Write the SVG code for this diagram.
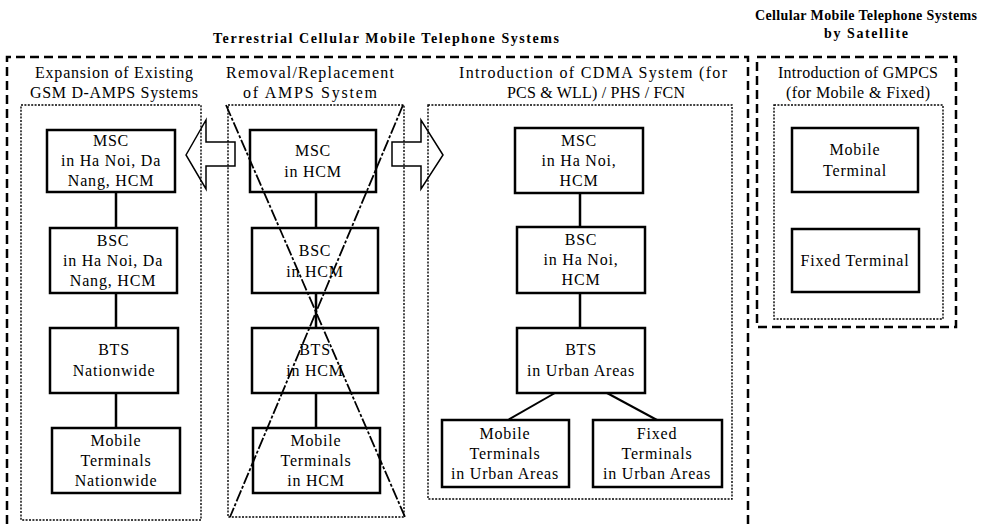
<svg xmlns="http://www.w3.org/2000/svg" width="981" height="524" viewBox="0 0 981 524">
<style>
.outer{fill:none;stroke:#000;stroke-width:2.5;stroke-dasharray:9 5}
.inner{fill:none;stroke:#000;stroke-width:1.4;stroke-dasharray:2 1.4}
.box{fill:#fff;stroke:#000;stroke-width:2.5}
.ln{stroke:#000;stroke-width:2.5;fill:none}
.cross{stroke:#000;stroke-width:1.8;stroke-dasharray:12 2 3 2;fill:none}
.arr{fill:none;stroke:#000;stroke-width:1.5}
text{font-family:"Liberation Serif","Times New Roman",serif;fill:#000;text-anchor:middle}
.t{font-size:16px;letter-spacing:0.8px}
.h{font-size:16px}
.ti{font-size:14px;font-weight:bold}
</style>
<rect width="981" height="524" fill="#fff"/>

<g id="titles">
<text class="ti" x="386" y="43" textLength="346" lengthAdjust="spacing">Terrestrial Cellular Mobile Telephone Systems</text>
<text class="ti" x="866" y="20" textLength="222" lengthAdjust="spacing">Cellular Mobile Telephone Systems</text>
<text class="ti" x="866" y="38" textLength="84" lengthAdjust="spacing">by Satellite</text>
</g>

<g id="frames">
<path class="outer" d="M7,524 V57 H748 V524"/>
<rect class="outer" x="757" y="57" width="199" height="270"/>
</g>

<g id="sec1">
<text class="h" x="114" y="78" textLength="158" lengthAdjust="spacing">Expansion of Existing</text>
<text class="h" x="114" y="98" textLength="168" lengthAdjust="spacing">GSM D-AMPS Systems</text>
<rect class="inner" x="21" y="105" width="180" height="415"/>
</g>
<g id="sec2">
<text class="h" x="310" y="78" textLength="168" lengthAdjust="spacing">Removal/Replacement</text>
<text class="h" x="310" y="98" textLength="134" lengthAdjust="spacing">of AMPS System</text>
<rect class="inner" x="228" y="105" width="176" height="412"/>
</g>
<g id="sec3">
<text class="h" x="593" y="78" textLength="268" lengthAdjust="spacing">Introduction of CDMA System (for</text>
<text class="h" x="596" y="98" textLength="178" lengthAdjust="spacing">PCS &amp; WLL) / PHS / FCN</text>
<rect class="inner" x="428" y="105" width="304" height="394"/>
</g>
<g id="sec4">
<text class="h" x="858" y="78" textLength="160" lengthAdjust="spacing">Introduction of GMPCS</text>
<text class="h" x="858" y="98" textLength="144" lengthAdjust="spacing">(for Mobile &amp; Fixed)</text>
<rect class="inner" x="774" y="105" width="169" height="214"/>
</g>

<g id="transitions">
<path class="arr" d="M186,155 L206,120 V142 H235 V166 H206 V189 Z"/>
<path class="arr" d="M443,155 L421,120 V142 H392 V166 H421 V189 Z"/>
</g>

<g id="connectors">
<line class="ln" x1="116" y1="192" x2="116" y2="228"/>
<line class="ln" x1="116" y1="293" x2="116" y2="328"/>
<line class="ln" x1="116" y1="393" x2="116" y2="428"/>
<line class="ln" x1="316" y1="192" x2="316" y2="228"/>
<line class="ln" x1="316" y1="293" x2="316" y2="328"/>
<line class="ln" x1="316" y1="393" x2="316" y2="428"/>
<line class="ln" x1="580" y1="193" x2="580" y2="227"/>
<line class="ln" x1="580" y1="293" x2="580" y2="328"/>
<line class="ln" x1="555" y1="393" x2="508" y2="420" style="stroke-width:2"/>
<line class="ln" x1="607" y1="393" x2="657" y2="420" style="stroke-width:2"/>
</g>

<g id="n1msc"><rect class="box" x="47" y="130" width="128" height="62"/>
<text class="t" x="111" y="146">MSC</text><text class="t" x="111" y="166">in Ha Noi, Da</text><text class="t" x="111" y="186">Nang, HCM</text></g>
<g id="n1bsc"><rect class="box" x="50" y="228" width="127" height="65"/>
<text class="t" x="113" y="246">BSC</text><text class="t" x="113" y="266">in Ha Noi, Da</text><text class="t" x="113" y="286">Nang, HCM</text></g>
<g id="n1bts"><rect class="box" x="50" y="328" width="128" height="65"/>
<text class="t" x="114" y="355">BTS</text><text class="t" x="114" y="376">Nationwide</text></g>
<g id="n1mob"><rect class="box" x="52" y="428" width="128" height="65"/>
<text class="t" x="116" y="446">Mobile</text><text class="t" x="116" y="466">Terminals</text><text class="t" x="116" y="486">Nationwide</text></g>

<g id="n2msc"><rect class="box" x="250" y="130" width="126" height="62"/>
<text class="t" x="313" y="156">MSC</text><text class="t" x="313" y="177">in HCM</text></g>
<g id="n2bsc"><rect class="box" x="252" y="228" width="126" height="65"/>
<text class="t" x="315" y="256">BSC</text><text class="t" x="315" y="277">in HCM</text></g>
<g id="n2bts"><rect class="box" x="252" y="328" width="126" height="65"/>
<text class="t" x="315" y="355">BTS</text><text class="t" x="315" y="376">in HCM</text></g>
<g id="n2mob"><rect class="box" x="253" y="428" width="127" height="65"/>
<text class="t" x="316" y="446">Mobile</text><text class="t" x="316" y="466">Terminals</text><text class="t" x="316" y="486">in HCM</text></g>

<g id="n3msc"><rect class="box" x="515" y="128" width="128" height="65"/>
<text class="t" x="579" y="146">MSC</text><text class="t" x="579" y="166">in Ha Noi,</text><text class="t" x="579" y="186">HCM</text></g>
<g id="n3bsc"><rect class="box" x="517" y="227" width="128" height="66"/>
<text class="t" x="581" y="245">BSC</text><text class="t" x="581" y="265">in Ha Noi,</text><text class="t" x="581" y="285">HCM</text></g>
<g id="n3bts"><rect class="box" x="517" y="328" width="128" height="65"/>
<text class="t" x="581" y="355">BTS</text><text class="t" x="581" y="376">in Urban Areas</text></g>
<g id="n3mob"><rect class="box" x="442" y="420" width="127" height="67"/>
<text class="t" x="505" y="439">Mobile</text><text class="t" x="505" y="459">Terminals</text><text class="t" x="505" y="479">in Urban Areas</text></g>
<g id="n3fix"><rect class="box" x="593" y="420" width="129" height="67"/>
<text class="t" x="657" y="439">Fixed</text><text class="t" x="657" y="459">Terminals</text><text class="t" x="657" y="479">in Urban Areas</text></g>

<g id="n4mob"><rect class="box" x="792" y="128" width="126" height="64"/>
<text class="t" x="855" y="155">Mobile</text><text class="t" x="855" y="176">Terminal</text></g>
<g id="n4fix"><rect class="box" x="792" y="229" width="127" height="63"/>
<text class="t" x="855" y="266">Fixed Terminal</text></g>

<g id="crossout">
<line class="cross" x1="226" y1="105" x2="405" y2="517"/>
<line class="cross" x1="403" y1="105" x2="230" y2="517"/>
</g>
</svg>
